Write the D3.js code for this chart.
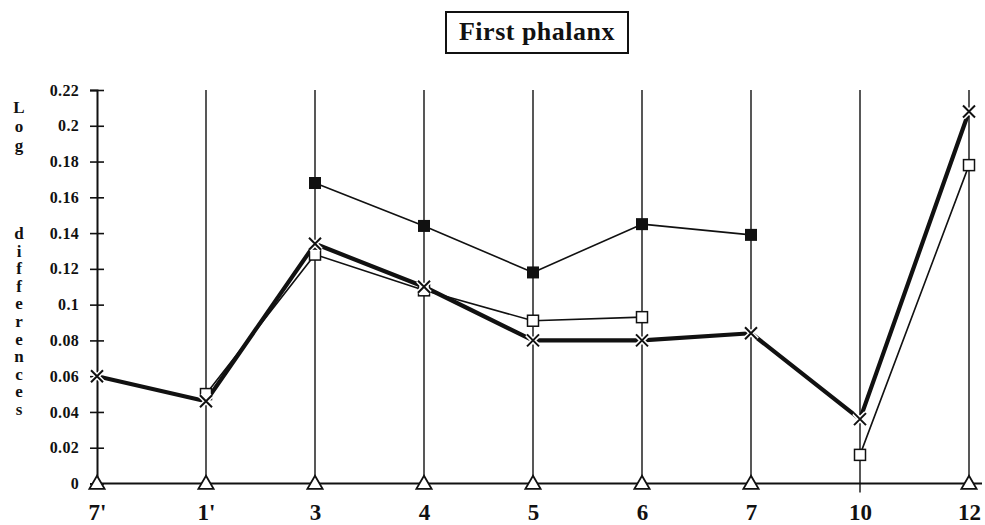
<!DOCTYPE html>
<html>
<head>
<meta charset="utf-8">
<script src="https://cdn.jsdelivr.net/npm/d3@7"></script>
<style>
  html, body { margin: 0; padding: 0; background: #fff; }
  svg { display: block; }
  text { font-family: "Liberation Serif", "Times New Roman", serif; font-weight: bold; fill: #111; }
</style>
</head>
<body>
<svg id="chart" width="985" height="525"></svg>
<script>
// ---- data ----
const categories = ["7'", "1'", "3", "4", "5", "6", "7", "10", "12"];
const seriesCross      = [0.060, 0.046, 0.134, 0.110, 0.080, 0.080, 0.084, 0.036, 0.208];
const seriesOpenSquare = [null, 0.050, 0.128, 0.108, 0.091, 0.093, null, 0.016, 0.178];
const seriesFilledSq   = [null, null, 0.168, 0.144, 0.118, 0.145, 0.139, null, null];
const seriesTriangle   = [0, 0, 0, 0, 0, 0, 0, null, 0];
const yTickValues = [0, 0.02, 0.04, 0.06, 0.08, 0.1, 0.12, 0.14, 0.16, 0.18, 0.2, 0.22];
const yTickLabels = ["0", "0.02", "0.04", "0.06", "0.08", "0.1", "0.12", "0.14", "0.16", "0.18", "0.2", "0.22"];
const titleText = "First phalanx";
const yTitleWords = ["Log", "differences"];

// ---- layout ----
const svg = d3.select("#chart");
const x = d3.scalePoint().domain(categories).range([97, 969]);
const y = d3.scaleLinear().domain([0, 0.22]).range([483.5, 90]);
const ink = "#111";

// vertical grid lines
svg.append("g").selectAll("line")
  .data(categories.slice(1))
  .join("line")
  .attr("x1", d => x(d)).attr("x2", d => x(d))
  .attr("y1", y(0.22))
  .attr("y2", d => y(0) + (seriesTriangle[categories.indexOf(d)] === null ? 9 : 0))
  .attr("stroke", ink).attr("stroke-width", 1.4);

// horizontal baseline
svg.append("line")
  .attr("x1", x(categories[0])).attr("x2", 982)
  .attr("y1", y(0)).attr("y2", y(0))
  .attr("stroke", ink).attr("stroke-width", 1.8);

// y axis
const yAxis = d3.axisLeft(y)
  .tickValues(yTickValues)
  .tickFormat((d, i) => yTickLabels[i])
  .tickSize(7).tickPadding(11);
const gy = svg.append("g").attr("transform", `translate(${x(categories[0])},0)`).call(yAxis);
gy.select(".domain").attr("stroke", ink).attr("stroke-width", 2);
gy.selectAll(".tick line").attr("x1", -7).attr("x2", 7).attr("stroke", ink).attr("stroke-width", 1.6);
gy.selectAll(".tick text")
  .style("font-family", "'Liberation Serif', serif").style("font-weight", "bold")
  .style("font-size", "16px").style("letter-spacing", "0.3px").attr("fill", ink);

// x axis labels
const xAxis = d3.axisBottom(x).tickSize(0).tickPadding(20);
const gx = svg.append("g").attr("transform", `translate(0,${y(0)})`).call(xAxis);
gx.select(".domain").remove();
gx.selectAll(".tick text")
  .style("font-family", "'Liberation Serif', serif").style("font-weight", "bold")
  .style("font-size", "23px").attr("fill", ink);

// ---- series lines ----
function drawLine(values, width) {
  const line = d3.line()
    .defined(d => d != null)
    .x((d, i) => x(categories[i]))
    .y(d => y(d));
  svg.append("path")
    .datum(values)
    .attr("d", line)
    .attr("fill", "none")
    .attr("stroke", ink)
    .attr("stroke-width", width)
    .attr("stroke-linejoin", "round");
}
drawLine(seriesFilledSq, 1.6);
drawLine(seriesOpenSquare, 1.6);
drawLine(seriesCross, 4.2);

function pts(values) {
  return values.map((v, i) => ({ c: categories[i], v })).filter(d => d.v != null);
}

// filled squares
svg.append("g").selectAll("rect")
  .data(pts(seriesFilledSq)).join("rect")
  .attr("x", d => x(d.c) - 6).attr("y", d => y(d.v) - 6)
  .attr("width", 12).attr("height", 12)
  .attr("fill", ink);

// open squares
svg.append("g").selectAll("rect")
  .data(pts(seriesOpenSquare)).join("rect")
  .attr("x", d => x(d.c) - 5.5).attr("y", d => y(d.v) - 5.5)
  .attr("width", 11).attr("height", 11)
  .attr("fill", "#fff").attr("stroke", ink).attr("stroke-width", 1.5);

// crosses
const crossPath = "M-6,-6L6,6M-6,6L6,-6";
const gc = svg.append("g").selectAll("g")
  .data(pts(seriesCross)).join("g")
  .attr("transform", d => `translate(${x(d.c)},${y(d.v)})`);
gc.append("path").attr("d", crossPath).attr("stroke", "#fff").attr("stroke-width", 5);
gc.append("path").attr("d", crossPath).attr("stroke", ink).attr("stroke-width", 2);

// triangles
const tri = d3.symbol().type(d3.symbolTriangle).size(100);
svg.append("g").selectAll("path")
  .data(pts(seriesTriangle)).join("path")
  .attr("d", tri)
  .attr("transform", d => `translate(${x(d.c)},${y(d.v) + 1})`)
  .attr("fill", "#fff").attr("stroke", ink).attr("stroke-width", 1.8);

// ---- title ----
svg.append("text")
  .attr("x", 537).attr("y", 40)
  .attr("text-anchor", "middle")
  .style("font-size", "26px")
  .style("letter-spacing", "0.5px")
  .text(titleText);
svg.append("rect")
  .attr("x", 446).attr("y", 12)
  .attr("width", 182).attr("height", 41)
  .attr("fill", "none").attr("stroke", ink).attr("stroke-width", 2);

// ---- y axis title (stacked letters) ----
const yt = svg.append("text").attr("text-anchor", "middle").style("font-size", "17px");
const letters1 = yTitleWords[0].split("");
const letters2 = yTitleWords[1].split("");
letters1.forEach((ch, i) => {
  yt.append("tspan").attr("x", 19).attr("y", 113 + i * 19).text(ch);
});
letters2.forEach((ch, i) => {
  yt.append("tspan").attr("x", 19).attr("y", 239 + i * 17.6).text(ch);
});
</script>
</body>
</html>
